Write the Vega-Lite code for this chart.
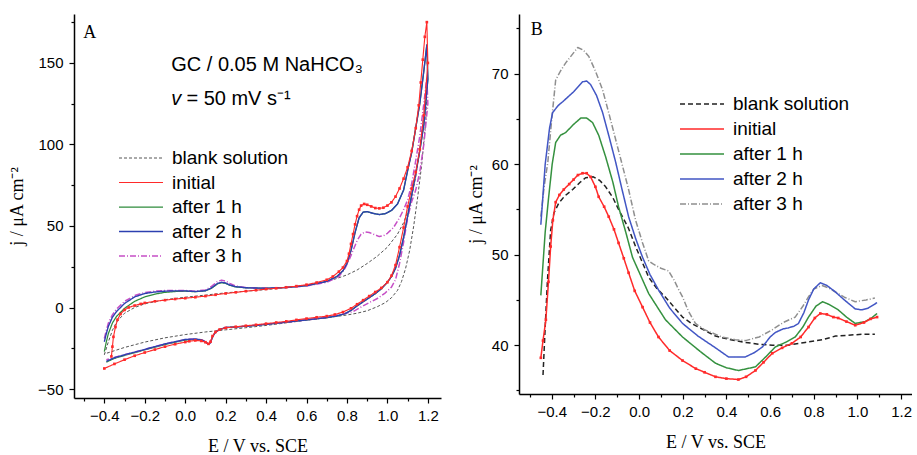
{
  "$schema": "https://vega.github.io/schema/vega-lite/v6.json",
  "background": "white",
  "padding": {"left": 8, "top": 14, "right": 0, "bottom": 0},
  "spacing": 78,
  "bounds": "flush",
  "config": {
    "view": {"stroke": null},
    "axis": {"domainColor": "#000", "domainWidth": 1.5, "tickColor": "#000", "tickWidth": 1.2, "labelFont": "Liberation Sans", "labelFontSize": 15, "labelColor": "#000", "titleFont": "Liberation Serif", "titleFontSize": 18, "titleFontWeight": "normal", "titleColor": "#000", "grid": false, "labelOverlap": false, "labelBound": false, "labelFlush": false},
    "legend": {"labelFont": "Liberation Sans", "labelFontSize": 19, "labelColor": "#000", "labelLimit": 300}
  },
  "datasets": {
    "cvA": [
      {"s":"blank solution","E":-0.40,"j":-29},{"s":"blank solution","E":-0.38,"j":-21},{"s":"blank solution","E":-0.36,"j":-14},{"s":"blank solution","E":-0.34,"j":-9},{"s":"blank solution","E":-0.30,"j":-3.5},{"s":"blank solution","E":-0.25,"j":0},{"s":"blank solution","E":-0.20,"j":2.3},{"s":"blank solution","E":-0.10,"j":4.8},{"s":"blank solution","E":0.00,"j":6.3},{"s":"blank solution","E":0.10,"j":7.6},{"s":"blank solution","E":0.20,"j":9},{"s":"blank solution","E":0.30,"j":10},{"s":"blank solution","E":0.40,"j":11},{"s":"blank solution","E":0.50,"j":12.2},{"s":"blank solution","E":0.60,"j":13.7},{"s":"blank solution","E":0.70,"j":16},{"s":"blank solution","E":0.75,"j":17.8},{"s":"blank solution","E":0.80,"j":20},{"s":"blank solution","E":0.85,"j":23},{"s":"blank solution","E":0.90,"j":27},{"s":"blank solution","E":0.95,"j":31.5},{"s":"blank solution","E":1.00,"j":37},{"s":"blank solution","E":1.05,"j":45},{"s":"blank solution","E":1.08,"j":52},{"s":"blank solution","E":1.11,"j":62},{"s":"blank solution","E":1.14,"j":80},{"s":"blank solution","E":1.16,"j":97},{"s":"blank solution","E":1.18,"j":118},{"s":"blank solution","E":1.195,"j":135},
      {"s":"blank solution","E":1.19,"j":115},{"s":"blank solution","E":1.17,"j":88},{"s":"blank solution","E":1.15,"j":68},{"s":"blank solution","E":1.13,"j":50},{"s":"blank solution","E":1.11,"j":35},{"s":"blank solution","E":1.09,"j":24},{"s":"blank solution","E":1.07,"j":16},{"s":"blank solution","E":1.05,"j":10.5},{"s":"blank solution","E":1.02,"j":6},{"s":"blank solution","E":0.99,"j":3},{"s":"blank solution","E":0.95,"j":0.5},{"s":"blank solution","E":0.90,"j":-2},{"s":"blank solution","E":0.85,"j":-3.5},{"s":"blank solution","E":0.80,"j":-4.6},{"s":"blank solution","E":0.70,"j":-6.3},{"s":"blank solution","E":0.60,"j":-7.8},{"s":"blank solution","E":0.50,"j":-9.4},{"s":"blank solution","E":0.40,"j":-11},{"s":"blank solution","E":0.30,"j":-12.4},{"s":"blank solution","E":0.20,"j":-13.7},{"s":"blank solution","E":0.10,"j":-15},{"s":"blank solution","E":0.00,"j":-16.6},{"s":"blank solution","E":-0.10,"j":-18.6},{"s":"blank solution","E":-0.20,"j":-21.2},{"s":"blank solution","E":-0.30,"j":-24.5},{"s":"blank solution","E":-0.35,"j":-26.5},{"s":"blank solution","E":-0.40,"j":-28.5},

      {"s":"after 1 h","E":-0.40,"j":-27},{"s":"after 1 h","E":-0.39,"j":-21},{"s":"after 1 h","E":-0.38,"j":-16},{"s":"after 1 h","E":-0.36,"j":-9.5},{"s":"after 1 h","E":-0.34,"j":-5.5},{"s":"after 1 h","E":-0.30,"j":-0.5},{"s":"after 1 h","E":-0.25,"j":3.8},{"s":"after 1 h","E":-0.20,"j":6.5},{"s":"after 1 h","E":-0.15,"j":8.2},{"s":"after 1 h","E":-0.10,"j":9.3},{"s":"after 1 h","E":-0.05,"j":9.8},{"s":"after 1 h","E":0.00,"j":10},{"s":"after 1 h","E":0.05,"j":9.7},{"s":"after 1 h","E":0.10,"j":10.2},{"s":"after 1 h","E":0.13,"j":11.8},{"s":"after 1 h","E":0.16,"j":14.5},{"s":"after 1 h","E":0.18,"j":15.2},{"s":"after 1 h","E":0.20,"j":14.8},{"s":"after 1 h","E":0.22,"j":13.6},{"s":"after 1 h","E":0.25,"j":12.6},{"s":"after 1 h","E":0.30,"j":12.1},{"s":"after 1 h","E":0.40,"j":11.8},{"s":"after 1 h","E":0.50,"j":12.3},{"s":"after 1 h","E":0.60,"j":13.4},{"s":"after 1 h","E":0.70,"j":16},{"s":"after 1 h","E":0.75,"j":19},{"s":"after 1 h","E":0.78,"j":22.5},{"s":"after 1 h","E":0.80,"j":27},{"s":"after 1 h","E":0.82,"j":35},{"s":"after 1 h","E":0.84,"j":46},{"s":"after 1 h","E":0.86,"j":55},{"s":"after 1 h","E":0.88,"j":58.5},{"s":"after 1 h","E":0.90,"j":58.8},{"s":"after 1 h","E":0.93,"j":57.7},{"s":"after 1 h","E":0.96,"j":57},{"s":"after 1 h","E":0.99,"j":57.6},{"s":"after 1 h","E":1.02,"j":59.5},{"s":"after 1 h","E":1.05,"j":63.5},{"s":"after 1 h","E":1.08,"j":72},{"s":"after 1 h","E":1.10,"j":84},{"s":"after 1 h","E":1.12,"j":95},{"s":"after 1 h","E":1.14,"j":110},{"s":"after 1 h","E":1.16,"j":125},{"s":"after 1 h","E":1.18,"j":145},{"s":"after 1 h","E":1.195,"j":161},
      {"s":"after 1 h","E":1.20,"j":140},{"s":"after 1 h","E":1.18,"j":112},{"s":"after 1 h","E":1.16,"j":96},{"s":"after 1 h","E":1.14,"j":82},{"s":"after 1 h","E":1.12,"j":69},{"s":"after 1 h","E":1.10,"j":56},{"s":"after 1 h","E":1.08,"j":43},{"s":"after 1 h","E":1.06,"j":32},{"s":"after 1 h","E":1.04,"j":24},{"s":"after 1 h","E":1.02,"j":19},{"s":"after 1 h","E":1.00,"j":15.5},{"s":"after 1 h","E":0.97,"j":11.5},{"s":"after 1 h","E":0.94,"j":8.5},{"s":"after 1 h","E":0.91,"j":6},{"s":"after 1 h","E":0.88,"j":3.5},{"s":"after 1 h","E":0.85,"j":1},{"s":"after 1 h","E":0.82,"j":-1.8},{"s":"after 1 h","E":0.79,"j":-3.8},{"s":"after 1 h","E":0.75,"j":-5.2},{"s":"after 1 h","E":0.70,"j":-6.2},{"s":"after 1 h","E":0.60,"j":-7.6},{"s":"after 1 h","E":0.50,"j":-9},{"s":"after 1 h","E":0.40,"j":-10.3},{"s":"after 1 h","E":0.30,"j":-11.5},{"s":"after 1 h","E":0.20,"j":-12.3},{"s":"after 1 h","E":0.17,"j":-13.5},{"s":"after 1 h","E":0.15,"j":-15},{"s":"after 1 h","E":0.135,"j":-18},{"s":"after 1 h","E":0.125,"j":-21.5},{"s":"after 1 h","E":0.115,"j":-22.6},{"s":"after 1 h","E":0.10,"j":-21.2},{"s":"after 1 h","E":0.08,"j":-20},{"s":"after 1 h","E":0.05,"j":-19.6},{"s":"after 1 h","E":0.00,"j":-20},{"s":"after 1 h","E":-0.05,"j":-21.3},{"s":"after 1 h","E":-0.10,"j":-22.7},{"s":"after 1 h","E":-0.20,"j":-26},{"s":"after 1 h","E":-0.30,"j":-29.4},{"s":"after 1 h","E":-0.35,"j":-31.2},{"s":"after 1 h","E":-0.39,"j":-33.5},

      {"s":"after 3 h","E":-0.40,"j":-19},{"s":"after 3 h","E":-0.39,"j":-14},{"s":"after 3 h","E":-0.38,"j":-9.5},{"s":"after 3 h","E":-0.36,"j":-4.5},{"s":"after 3 h","E":-0.34,"j":-1},{"s":"after 3 h","E":-0.30,"j":3.8},{"s":"after 3 h","E":-0.25,"j":7.3},{"s":"after 3 h","E":-0.20,"j":9.2},{"s":"after 3 h","E":-0.15,"j":10},{"s":"after 3 h","E":-0.10,"j":10.4},{"s":"after 3 h","E":-0.05,"j":10.5},{"s":"after 3 h","E":0.00,"j":10.4},{"s":"after 3 h","E":0.05,"j":10},{"s":"after 3 h","E":0.10,"j":10.8},{"s":"after 3 h","E":0.13,"j":13},{"s":"after 3 h","E":0.16,"j":16},{"s":"after 3 h","E":0.18,"j":16.8},{"s":"after 3 h","E":0.20,"j":16.2},{"s":"after 3 h","E":0.22,"j":14.8},{"s":"after 3 h","E":0.25,"j":13.2},{"s":"after 3 h","E":0.30,"j":12.2},{"s":"after 3 h","E":0.40,"j":11.8},{"s":"after 3 h","E":0.50,"j":12.2},{"s":"after 3 h","E":0.60,"j":13.2},{"s":"after 3 h","E":0.70,"j":15.5},{"s":"after 3 h","E":0.76,"j":19},{"s":"after 3 h","E":0.79,"j":24},{"s":"after 3 h","E":0.81,"j":29},{"s":"after 3 h","E":0.83,"j":35},{"s":"after 3 h","E":0.85,"j":41},{"s":"after 3 h","E":0.87,"j":45},{"s":"after 3 h","E":0.89,"j":46.3},{"s":"after 3 h","E":0.91,"j":46},{"s":"after 3 h","E":0.94,"j":44.5},{"s":"after 3 h","E":0.96,"j":43.5},{"s":"after 3 h","E":0.98,"j":44},{"s":"after 3 h","E":1.00,"j":45.5},{"s":"after 3 h","E":1.03,"j":49},{"s":"after 3 h","E":1.06,"j":55},{"s":"after 3 h","E":1.08,"j":60},{"s":"after 3 h","E":1.10,"j":66},{"s":"after 3 h","E":1.12,"j":76},{"s":"after 3 h","E":1.14,"j":90},{"s":"after 3 h","E":1.16,"j":105},{"s":"after 3 h","E":1.18,"j":125},{"s":"after 3 h","E":1.195,"j":141},
      {"s":"after 3 h","E":1.20,"j":125},{"s":"after 3 h","E":1.18,"j":100},{"s":"after 3 h","E":1.16,"j":83},{"s":"after 3 h","E":1.14,"j":72},{"s":"after 3 h","E":1.12,"j":65},{"s":"after 3 h","E":1.10,"j":55},{"s":"after 3 h","E":1.08,"j":40},{"s":"after 3 h","E":1.06,"j":27},{"s":"after 3 h","E":1.04,"j":17},{"s":"after 3 h","E":1.02,"j":12.5},{"s":"after 3 h","E":0.99,"j":9},{"s":"after 3 h","E":0.95,"j":5.5},{"s":"after 3 h","E":0.91,"j":3},{"s":"after 3 h","E":0.87,"j":0.3},{"s":"after 3 h","E":0.83,"j":-2.5},{"s":"after 3 h","E":0.76,"j":-4.5},{"s":"after 3 h","E":0.70,"j":-6},{"s":"after 3 h","E":0.60,"j":-7.6},{"s":"after 3 h","E":0.50,"j":-9},{"s":"after 3 h","E":0.40,"j":-10.3},{"s":"after 3 h","E":0.30,"j":-11.5},{"s":"after 3 h","E":0.20,"j":-12.3},{"s":"after 3 h","E":0.17,"j":-13.5},{"s":"after 3 h","E":0.15,"j":-15},{"s":"after 3 h","E":0.135,"j":-18},{"s":"after 3 h","E":0.125,"j":-21.5},{"s":"after 3 h","E":0.115,"j":-22.5},{"s":"after 3 h","E":0.10,"j":-21},{"s":"after 3 h","E":0.08,"j":-19.8},{"s":"after 3 h","E":0.05,"j":-19.3},{"s":"after 3 h","E":0.00,"j":-19.6},{"s":"after 3 h","E":-0.05,"j":-21},{"s":"after 3 h","E":-0.10,"j":-22.3},{"s":"after 3 h","E":-0.20,"j":-25.7},{"s":"after 3 h","E":-0.30,"j":-29},{"s":"after 3 h","E":-0.35,"j":-30.6},{"s":"after 3 h","E":-0.39,"j":-32},

      {"s":"after 2 h","E":-0.40,"j":-21},{"s":"after 2 h","E":-0.39,"j":-16},{"s":"after 2 h","E":-0.38,"j":-11.5},{"s":"after 2 h","E":-0.36,"j":-6},{"s":"after 2 h","E":-0.34,"j":-2.5},{"s":"after 2 h","E":-0.30,"j":2.5},{"s":"after 2 h","E":-0.25,"j":6.5},{"s":"after 2 h","E":-0.20,"j":8.6},{"s":"after 2 h","E":-0.15,"j":9.5},{"s":"after 2 h","E":-0.10,"j":10},{"s":"after 2 h","E":-0.05,"j":10.2},{"s":"after 2 h","E":0.00,"j":10.2},{"s":"after 2 h","E":0.05,"j":9.8},{"s":"after 2 h","E":0.10,"j":10.3},{"s":"after 2 h","E":0.13,"j":12},{"s":"after 2 h","E":0.16,"j":14.8},{"s":"after 2 h","E":0.18,"j":15.5},{"s":"after 2 h","E":0.20,"j":15},{"s":"after 2 h","E":0.22,"j":13.8},{"s":"after 2 h","E":0.25,"j":12.8},{"s":"after 2 h","E":0.30,"j":12.1},{"s":"after 2 h","E":0.40,"j":11.8},{"s":"after 2 h","E":0.50,"j":12.3},{"s":"after 2 h","E":0.60,"j":13.4},{"s":"after 2 h","E":0.70,"j":16},{"s":"after 2 h","E":0.75,"j":19},{"s":"after 2 h","E":0.78,"j":22.5},{"s":"after 2 h","E":0.80,"j":27},{"s":"after 2 h","E":0.82,"j":35},{"s":"after 2 h","E":0.84,"j":46},{"s":"after 2 h","E":0.86,"j":55},{"s":"after 2 h","E":0.88,"j":58.5},{"s":"after 2 h","E":0.90,"j":58.8},{"s":"after 2 h","E":0.93,"j":57.7},{"s":"after 2 h","E":0.96,"j":57},{"s":"after 2 h","E":0.99,"j":57.6},{"s":"after 2 h","E":1.02,"j":59.5},{"s":"after 2 h","E":1.05,"j":63.5},{"s":"after 2 h","E":1.08,"j":72},{"s":"after 2 h","E":1.10,"j":84},{"s":"after 2 h","E":1.12,"j":95},{"s":"after 2 h","E":1.14,"j":110},{"s":"after 2 h","E":1.16,"j":125},{"s":"after 2 h","E":1.18,"j":145},{"s":"after 2 h","E":1.195,"j":161},
      {"s":"after 2 h","E":1.20,"j":140},{"s":"after 2 h","E":1.18,"j":112},{"s":"after 2 h","E":1.16,"j":96},{"s":"after 2 h","E":1.14,"j":82},{"s":"after 2 h","E":1.12,"j":69},{"s":"after 2 h","E":1.10,"j":56},{"s":"after 2 h","E":1.08,"j":43},{"s":"after 2 h","E":1.06,"j":32},{"s":"after 2 h","E":1.04,"j":24},{"s":"after 2 h","E":1.02,"j":19},{"s":"after 2 h","E":1.00,"j":15.5},{"s":"after 2 h","E":0.97,"j":11.5},{"s":"after 2 h","E":0.94,"j":8.5},{"s":"after 2 h","E":0.91,"j":6},{"s":"after 2 h","E":0.88,"j":3.5},{"s":"after 2 h","E":0.85,"j":1},{"s":"after 2 h","E":0.82,"j":-1.8},{"s":"after 2 h","E":0.79,"j":-3.8},{"s":"after 2 h","E":0.75,"j":-5.2},{"s":"after 2 h","E":0.70,"j":-6.2},{"s":"after 2 h","E":0.60,"j":-7.6},{"s":"after 2 h","E":0.50,"j":-9},{"s":"after 2 h","E":0.40,"j":-10.3},{"s":"after 2 h","E":0.30,"j":-11.5},{"s":"after 2 h","E":0.20,"j":-12.3},{"s":"after 2 h","E":0.17,"j":-13.5},{"s":"after 2 h","E":0.15,"j":-15},{"s":"after 2 h","E":0.135,"j":-18},{"s":"after 2 h","E":0.125,"j":-21.5},{"s":"after 2 h","E":0.115,"j":-22.5},{"s":"after 2 h","E":0.10,"j":-21},{"s":"after 2 h","E":0.08,"j":-19.8},{"s":"after 2 h","E":0.05,"j":-19.3},{"s":"after 2 h","E":0.00,"j":-19.6},{"s":"after 2 h","E":-0.05,"j":-21},{"s":"after 2 h","E":-0.10,"j":-22.3},{"s":"after 2 h","E":-0.20,"j":-25.7},{"s":"after 2 h","E":-0.30,"j":-29},{"s":"after 2 h","E":-0.35,"j":-30.8},{"s":"after 2 h","E":-0.39,"j":-33},

      {"s":"initial","E":-0.365,"j":-30},{"s":"initial","E":-0.36,"j":-24},{"s":"initial","E":-0.355,"j":-18},{"s":"initial","E":-0.345,"j":-12},{"s":"initial","E":-0.335,"j":-7.5},{"s":"initial","E":-0.32,"j":-4},{"s":"initial","E":-0.30,"j":-1.5},{"s":"initial","E":-0.28,"j":0},{"s":"initial","E":-0.25,"j":1.2},{"s":"initial","E":-0.22,"j":2.2},{"s":"initial","E":-0.20,"j":2.8},{"s":"initial","E":-0.15,"j":3.8},{"s":"initial","E":-0.10,"j":4.5},{"s":"initial","E":-0.05,"j":5.2},{"s":"initial","E":0.00,"j":5.7},{"s":"initial","E":0.05,"j":6.3},{"s":"initial","E":0.10,"j":7},{"s":"initial","E":0.15,"j":7.8},{"s":"initial","E":0.20,"j":8.6},{"s":"initial","E":0.25,"j":9.3},{"s":"initial","E":0.30,"j":10},{"s":"initial","E":0.35,"j":10.6},{"s":"initial","E":0.40,"j":11.3},{"s":"initial","E":0.45,"j":11.8},{"s":"initial","E":0.50,"j":12.4},{"s":"initial","E":0.55,"j":13.1},{"s":"initial","E":0.60,"j":14},{"s":"initial","E":0.65,"j":15.3},{"s":"initial","E":0.70,"j":17},{"s":"initial","E":0.73,"j":19},{"s":"initial","E":0.76,"j":22},{"s":"initial","E":0.78,"j":24.5},{"s":"initial","E":0.80,"j":28.5},{"s":"initial","E":0.81,"j":33},{"s":"initial","E":0.82,"j":39},{"s":"initial","E":0.83,"j":45},{"s":"initial","E":0.84,"j":51},{"s":"initial","E":0.85,"j":56},{"s":"initial","E":0.86,"j":60},{"s":"initial","E":0.87,"j":62.5},{"s":"initial","E":0.885,"j":63.5},{"s":"initial","E":0.90,"j":63},{"s":"initial","E":0.92,"j":62},{"s":"initial","E":0.94,"j":61},{"s":"initial","E":0.96,"j":60.8},{"s":"initial","E":0.98,"j":61.2},{"s":"initial","E":1.00,"j":62.5},{"s":"initial","E":1.02,"j":64.5},{"s":"initial","E":1.04,"j":68},{"s":"initial","E":1.06,"j":73},{"s":"initial","E":1.08,"j":79},{"s":"initial","E":1.10,"j":86},{"s":"initial","E":1.12,"j":96},{"s":"initial","E":1.14,"j":110},{"s":"initial","E":1.155,"j":124},{"s":"initial","E":1.165,"j":138},{"s":"initial","E":1.175,"j":152},{"s":"initial","E":1.185,"j":166},{"s":"initial","E":1.195,"j":175},
      {"s":"initial","E":1.20,"j":150},{"s":"initial","E":1.18,"j":118},{"s":"initial","E":1.16,"j":97},{"s":"initial","E":1.14,"j":83},{"s":"initial","E":1.12,"j":73},{"s":"initial","E":1.10,"j":62},{"s":"initial","E":1.08,"j":49},{"s":"initial","E":1.06,"j":37},{"s":"initial","E":1.04,"j":26},{"s":"initial","E":1.02,"j":19.5},{"s":"initial","E":1.00,"j":15.5},{"s":"initial","E":0.97,"j":12},{"s":"initial","E":0.94,"j":9.5},{"s":"initial","E":0.91,"j":7},{"s":"initial","E":0.88,"j":4.5},{"s":"initial","E":0.85,"j":2},{"s":"initial","E":0.82,"j":-0.5},{"s":"initial","E":0.78,"j":-2.8},{"s":"initial","E":0.74,"j":-4.3},{"s":"initial","E":0.70,"j":-5.3},{"s":"initial","E":0.65,"j":-6},{"s":"initial","E":0.60,"j":-6.8},{"s":"initial","E":0.55,"j":-7.6},{"s":"initial","E":0.50,"j":-8.5},{"s":"initial","E":0.45,"j":-9.2},{"s":"initial","E":0.40,"j":-9.9},{"s":"initial","E":0.35,"j":-10.6},{"s":"initial","E":0.30,"j":-11.2},{"s":"initial","E":0.25,"j":-11.8},{"s":"initial","E":0.20,"j":-12.5},{"s":"initial","E":0.17,"j":-13.5},{"s":"initial","E":0.15,"j":-15},{"s":"initial","E":0.135,"j":-17.5},{"s":"initial","E":0.125,"j":-21},{"s":"initial","E":0.115,"j":-22.3},{"s":"initial","E":0.10,"j":-21.3},{"s":"initial","E":0.08,"j":-20.5},{"s":"initial","E":0.05,"j":-20.2},{"s":"initial","E":0.02,"j":-20.7},{"s":"initial","E":0.00,"j":-21.2},{"s":"initial","E":-0.05,"j":-22.5},{"s":"initial","E":-0.10,"j":-24},{"s":"initial","E":-0.15,"j":-25.8},{"s":"initial","E":-0.20,"j":-27.6},{"s":"initial","E":-0.25,"j":-29.6},{"s":"initial","E":-0.30,"j":-32},{"s":"initial","E":-0.35,"j":-34.6},{"s":"initial","E":-0.40,"j":-37.4}
    ],
    "cvB": [
      {"s":"blank solution","E":-0.44,"j":36.7},{"s":"blank solution","E":-0.43,"j":42},{"s":"blank solution","E":-0.42,"j":47},{"s":"blank solution","E":-0.405,"j":52.7},{"s":"blank solution","E":-0.39,"j":54.6},{"s":"blank solution","E":-0.368,"j":55.7},{"s":"blank solution","E":-0.34,"j":56.5},{"s":"blank solution","E":-0.304,"j":57.2},{"s":"blank solution","E":-0.27,"j":58},{"s":"blank solution","E":-0.245,"j":58.5},{"s":"blank solution","E":-0.21,"j":58.6},{"s":"blank solution","E":-0.18,"j":58.2},{"s":"blank solution","E":-0.153,"j":57.5},{"s":"blank solution","E":-0.12,"j":56.3},{"s":"blank solution","E":-0.094,"j":55},{"s":"blank solution","E":-0.05,"j":53},{"s":"blank solution","E":-0.016,"j":50.9},{"s":"blank solution","E":0.044,"j":47.5},{"s":"blank solution","E":0.08,"j":46.3},{"s":"blank solution","E":0.121,"j":45.3},{"s":"blank solution","E":0.16,"j":44.2},{"s":"blank solution","E":0.199,"j":43.1},{"s":"blank solution","E":0.24,"j":42.4},{"s":"blank solution","E":0.272,"j":42},{"s":"blank solution","E":0.35,"j":41},{"s":"blank solution","E":0.42,"j":40.6},{"s":"blank solution","E":0.487,"j":40.3},{"s":"blank solution","E":0.55,"j":40.1},{"s":"blank solution","E":0.61,"j":40},{"s":"blank solution","E":0.683,"j":40},{"s":"blank solution","E":0.76,"j":40.3},{"s":"blank solution","E":0.838,"j":40.6},{"s":"blank solution","E":0.9,"j":41},{"s":"blank solution","E":0.958,"j":41.1},{"s":"blank solution","E":1.02,"j":41.2},{"s":"blank solution","E":1.08,"j":41.2},

      {"s":"after 3 h","E":-0.45,"j":54.2},{"s":"after 3 h","E":-0.435,"j":57.5},{"s":"after 3 h","E":-0.418,"j":60.2},{"s":"after 3 h","E":-0.40,"j":65},{"s":"after 3 h","E":-0.382,"j":69.3},{"s":"after 3 h","E":-0.36,"j":70.3},{"s":"after 3 h","E":-0.336,"j":71.2},{"s":"after 3 h","E":-0.31,"j":72},{"s":"after 3 h","E":-0.281,"j":72.9},{"s":"after 3 h","E":-0.255,"j":72.6},{"s":"after 3 h","E":-0.23,"j":71.9},{"s":"after 3 h","E":-0.2,"j":70.3},{"s":"after 3 h","E":-0.167,"j":68.2},{"s":"after 3 h","E":-0.137,"j":65.5},{"s":"after 3 h","E":-0.107,"j":62.7},{"s":"after 3 h","E":-0.078,"j":60},{"s":"after 3 h","E":-0.048,"j":57.2},{"s":"after 3 h","E":-0.016,"j":53.8},{"s":"after 3 h","E":0.016,"j":51.3},{"s":"after 3 h","E":0.044,"j":49.3},{"s":"after 3 h","E":0.062,"j":49},{"s":"after 3 h","E":0.1,"j":48.5},{"s":"after 3 h","E":0.135,"j":48.2},{"s":"after 3 h","E":0.16,"j":47.2},{"s":"after 3 h","E":0.18,"j":46.2},{"s":"after 3 h","E":0.2,"j":45.3},{"s":"after 3 h","E":0.225,"j":43.8},{"s":"after 3 h","E":0.258,"j":42.4},{"s":"after 3 h","E":0.3,"j":41.7},{"s":"after 3 h","E":0.38,"j":40.9},{"s":"after 3 h","E":0.44,"j":40.6},{"s":"after 3 h","E":0.487,"j":40.5},{"s":"after 3 h","E":0.55,"j":40.9},{"s":"after 3 h","E":0.61,"j":41.7},{"s":"after 3 h","E":0.66,"j":42.5},{"s":"after 3 h","E":0.715,"j":43.1},{"s":"after 3 h","E":0.75,"j":44.3},{"s":"after 3 h","E":0.775,"j":45.3},{"s":"after 3 h","E":0.8,"j":46.2},{"s":"after 3 h","E":0.838,"j":46.6},{"s":"after 3 h","E":0.87,"j":46.3},{"s":"after 3 h","E":0.898,"j":45.9},{"s":"after 3 h","E":0.94,"j":45.3},{"s":"after 3 h","E":0.99,"j":44.8},{"s":"after 3 h","E":1.04,"j":45},{"s":"after 3 h","E":1.08,"j":45.2},

      {"s":"after 2 h","E":-0.45,"j":53.3},{"s":"after 2 h","E":-0.43,"j":60},{"s":"after 2 h","E":-0.41,"j":64},{"s":"after 2 h","E":-0.396,"j":65.7},{"s":"after 2 h","E":-0.37,"j":66.5},{"s":"after 2 h","E":-0.35,"j":66.9},{"s":"after 2 h","E":-0.3,"j":68},{"s":"after 2 h","E":-0.259,"j":69.1},{"s":"after 2 h","E":-0.24,"j":69.2},{"s":"after 2 h","E":-0.222,"j":68.8},{"s":"after 2 h","E":-0.195,"j":67.6},{"s":"after 2 h","E":-0.167,"j":65.7},{"s":"after 2 h","E":-0.137,"j":63},{"s":"after 2 h","E":-0.107,"j":60.2},{"s":"after 2 h","E":-0.078,"j":57.2},{"s":"after 2 h","E":-0.048,"j":54.2},{"s":"after 2 h","E":-0.016,"j":51.8},{"s":"after 2 h","E":0.016,"j":49.7},{"s":"after 2 h","E":0.05,"j":47.8},{"s":"after 2 h","E":0.089,"j":46.1},{"s":"after 2 h","E":0.14,"j":44.1},{"s":"after 2 h","E":0.199,"j":42.4},{"s":"after 2 h","E":0.27,"j":41},{"s":"after 2 h","E":0.35,"j":39.7},{"s":"after 2 h","E":0.409,"j":38.7},{"s":"after 2 h","E":0.487,"j":38.7},{"s":"after 2 h","E":0.53,"j":39.2},{"s":"after 2 h","E":0.565,"j":39.8},{"s":"after 2 h","E":0.6,"j":40.9},{"s":"after 2 h","E":0.624,"j":41.4},{"s":"after 2 h","E":0.66,"j":41.8},{"s":"after 2 h","E":0.683,"j":41.9},{"s":"after 2 h","E":0.71,"j":42.1},{"s":"after 2 h","E":0.73,"j":42.4},{"s":"after 2 h","E":0.755,"j":43.6},{"s":"after 2 h","E":0.776,"j":45},{"s":"after 2 h","E":0.8,"j":46.2},{"s":"after 2 h","E":0.83,"j":46.9},{"s":"after 2 h","E":0.86,"j":46.6},{"s":"after 2 h","E":0.898,"j":45.9},{"s":"after 2 h","E":0.94,"j":45},{"s":"after 2 h","E":0.99,"j":44},{"s":"after 2 h","E":1.02,"j":43.9},{"s":"after 2 h","E":1.05,"j":44.1},{"s":"after 2 h","E":1.09,"j":44.7},

      {"s":"after 1 h","E":-0.45,"j":45.5},{"s":"after 1 h","E":-0.43,"j":52.5},{"s":"after 1 h","E":-0.414,"j":56.4},{"s":"after 1 h","E":-0.398,"j":60},{"s":"after 1 h","E":-0.382,"j":62.4},{"s":"after 1 h","E":-0.36,"j":63.2},{"s":"after 1 h","E":-0.336,"j":63.5},{"s":"after 1 h","E":-0.3,"j":64.4},{"s":"after 1 h","E":-0.267,"j":65.1},{"s":"after 1 h","E":-0.24,"j":65.1},{"s":"after 1 h","E":-0.213,"j":64.6},{"s":"after 1 h","E":-0.185,"j":63.2},{"s":"after 1 h","E":-0.153,"j":60.8},{"s":"after 1 h","E":-0.12,"j":58},{"s":"after 1 h","E":-0.094,"j":55.3},{"s":"after 1 h","E":-0.06,"j":52.4},{"s":"after 1 h","E":-0.03,"j":49.7},{"s":"after 1 h","E":0.044,"j":45.7},{"s":"after 1 h","E":0.121,"j":42.8},{"s":"after 1 h","E":0.199,"j":40.9},{"s":"after 1 h","E":0.28,"j":39.3},{"s":"after 1 h","E":0.35,"j":38},{"s":"after 1 h","E":0.40,"j":37.5},{"s":"after 1 h","E":0.455,"j":37.2},{"s":"after 1 h","E":0.533,"j":37.6},{"s":"after 1 h","E":0.58,"j":38.7},{"s":"after 1 h","E":0.624,"j":39.8},{"s":"after 1 h","E":0.67,"j":40.3},{"s":"after 1 h","E":0.715,"j":40.9},{"s":"after 1 h","E":0.75,"j":42},{"s":"after 1 h","E":0.776,"j":43.1},{"s":"after 1 h","E":0.81,"j":44.3},{"s":"after 1 h","E":0.84,"j":44.8},{"s":"after 1 h","E":0.87,"j":44.5},{"s":"after 1 h","E":0.912,"j":43.9},{"s":"after 1 h","E":0.95,"j":43.1},{"s":"after 1 h","E":0.99,"j":42.4},{"s":"after 1 h","E":1.035,"j":42.6},{"s":"after 1 h","E":1.065,"j":43},{"s":"after 1 h","E":1.09,"j":43.5},

      {"s":"initial","E":-0.45,"j":38.6},{"s":"initial","E":-0.44,"j":40.5},{"s":"initial","E":-0.427,"j":42.8},{"s":"initial","E":-0.415,"j":47},{"s":"initial","E":-0.405,"j":50.9},{"s":"initial","E":-0.395,"j":53.8},{"s":"initial","E":-0.382,"j":55.8},{"s":"initial","E":-0.365,"j":56.6},{"s":"initial","E":-0.345,"j":57.2},{"s":"initial","E":-0.32,"j":57.8},{"s":"initial","E":-0.3,"j":58.3},{"s":"initial","E":-0.28,"j":58.8},{"s":"initial","E":-0.259,"j":59},{"s":"initial","E":-0.24,"j":59},{"s":"initial","E":-0.222,"j":58.6},{"s":"initial","E":-0.2,"j":57.5},{"s":"initial","E":-0.185,"j":56.4},{"s":"initial","E":-0.16,"j":55.3},{"s":"initial","E":-0.139,"j":54.2},{"s":"initial","E":-0.115,"j":52.8},{"s":"initial","E":-0.094,"j":51.3},{"s":"initial","E":-0.07,"j":49.6},{"s":"initial","E":-0.048,"j":48},{"s":"initial","E":-0.02,"j":46},{"s":"initial","E":0.016,"j":44.2},{"s":"initial","E":0.05,"j":42.5},{"s":"initial","E":0.089,"j":40.9},{"s":"initial","E":0.14,"j":39.4},{"s":"initial","E":0.199,"j":38.3},{"s":"initial","E":0.26,"j":37.4},{"s":"initial","E":0.3,"j":37},{"s":"initial","E":0.35,"j":36.5},{"s":"initial","E":0.4,"j":36.3},{"s":"initial","E":0.455,"j":36.2},{"s":"initial","E":0.49,"j":36.5},{"s":"initial","E":0.533,"j":37.2},{"s":"initial","E":0.57,"j":38.1},{"s":"initial","E":0.61,"j":39.1},{"s":"initial","E":0.655,"j":39.7},{"s":"initial","E":0.7,"j":40.2},{"s":"initial","E":0.74,"j":40.9},{"s":"initial","E":0.776,"j":42},{"s":"initial","E":0.805,"j":43},{"s":"initial","E":0.83,"j":43.5},{"s":"initial","E":0.86,"j":43.4},{"s":"initial","E":0.89,"j":43.1},{"s":"initial","E":0.912,"j":43},{"s":"initial","E":0.95,"j":42.6},{"s":"initial","E":0.99,"j":42.2},{"s":"initial","E":1.03,"j":42.5},{"s":"initial","E":1.06,"j":42.9},{"s":"initial","E":1.09,"j":43.1}
    ],
    "labelsA": [
      {"E": -0.504, "j": 168.2, "t": "A"}
    ],
    "notesA": [
      {"E": -0.069, "j": 149, "t": "GC / 0.05 M NaHCO₃"},
      {"E": 0.006, "j": 128, "t": "= 50 mV s⁻¹"}
    ],
    "italA": [
      {"E": -0.069, "j": 128, "t": "v"}
    ],
    "labelsB": [
      {"E": -0.496, "j": 74.8, "t": "B"}
    ]
  },
  "resolve": {
    "scale": {"color": "independent", "strokeDash": "independent", "strokeWidth": "independent"},
    "legend": {"color": "independent", "strokeDash": "independent", "strokeWidth": "independent"}
  },
  "hconcat": [
    {
      "width": 367,
      "height": 384,
      "resolve": {"axis": {"x": "independent", "y": "independent"}},
      "layer": [
        {
          "data": {"name": "cvA"},
          "mark": {"type": "line", "strokeJoin": "round", "clip": false},
          "encoding": {
            "x": {"field": "E", "type": "quantitative", "scale": {"domain": [-0.55, 1.265], "nice": false, "zero": false},
              "axis": {"title": "E / V vs. SCE", "values": [-0.4,-0.2,0,0.2,0.4,0.6,0.8,1,1.2], "format": ".1f", "tickSize": 5,
                "labelFont": "Liberation Sans", "labelFontSize": 15, "labelColor": "#000", "titleFont": "Liberation Serif", "titleFontSize": 18, "titleFontWeight": "normal", "titleColor": "#000",
                "domainColor": "#000", "domainWidth": 1.5, "tickColor": "#000", "tickWidth": 1.2, "grid": false, "labelOverlap": false, "labelFlush": false,
                "labelPadding": 5, "titlePadding": 14}},
            "y": {"field": "j", "type": "quantitative", "scale": {"domain": [-55.5, 180], "nice": false, "zero": false},
              "axis": {"title": "j / μA cm⁻²", "values": [-50,0,50,100,150], "tickSize": 5,
                "labelFont": "Liberation Sans", "labelFontSize": 15, "labelColor": "#000", "titleFont": "Liberation Serif", "titleFontSize": 18, "titleFontWeight": "normal", "titleColor": "#000",
                "domainColor": "#000", "domainWidth": 1.5, "tickColor": "#000", "tickWidth": 1.2, "grid": false, "labelOverlap": false, "labelFlush": false,
                "labelPadding": 6, "titlePadding": 11}},
            "color": {"field": "s", "type": "nominal",
              "scale": {"domain": ["blank solution", "initial", "after 1 h", "after 2 h", "after 3 h"], "range": ["#555555", "#ff2a2a", "#2f8c3c", "#2c40b0", "#c64fc6"]},
              "legend": {"title": null, "orient": "none", "legendX": 44, "legendY": 134, "direction": "vertical", "symbolType": "stroke", "symbolSize": 1936, "clipHeight": 20, "rowPadding": 4.5, "labelOffset": 8}},
            "strokeDash": {"field": "s", "type": "nominal",
              "scale": {"domain": ["blank solution", "initial", "after 1 h", "after 2 h", "after 3 h"], "range": [[3, 2], [1, 0], [1, 0], [1, 0], [6, 2, 1, 2]]},
              "legend": {"title": null, "orient": "none", "legendX": 44, "legendY": 134, "direction": "vertical", "symbolType": "stroke", "symbolSize": 1936, "clipHeight": 20, "rowPadding": 4.5, "labelOffset": 8}},
            "strokeWidth": {"field": "s", "type": "nominal",
              "scale": {"domain": ["blank solution", "initial", "after 1 h", "after 2 h", "after 3 h"], "range": [1, 1.5, 1.2, 2, 1]},
              "legend": {"title": null, "orient": "none", "legendX": 44, "legendY": 134, "direction": "vertical", "symbolType": "stroke", "symbolSize": 1936, "clipHeight": 20, "rowPadding": 4.5, "labelOffset": 8}},
            "order": {"value": null}
          }
        },
        {
          "data": {"name": "cvA"},
          "transform": [{"filter": "datum.s === 'initial'"}],
          "mark": {"type": "point", "shape": "square", "filled": true, "size": 7, "color": "#ff2a2a", "opacity": 1},
          "encoding": {
            "x": {"field": "E", "type": "quantitative", "axis": {"orient": "bottom", "values": [-0.5,-0.3,-0.1,0.1,0.3,0.5,0.7,0.9,1.1], "labels": false, "domain": false, "tickSize": 3, "tickColor": "#000", "tickWidth": 1.2, "grid": false, "title": null}},
            "y": {"field": "j", "type": "quantitative", "axis": {"orient": "left", "values": [-25,25,75,125,175], "labels": false, "domain": false, "tickSize": 3, "tickColor": "#000", "tickWidth": 1.2, "grid": false, "title": null}}
          }
        },
        {
          "data": {"name": "labelsA"},
          "mark": {"type": "text", "font": "Liberation Serif", "fontSize": 18, "align": "left", "baseline": "middle", "color": "#000"},
          "encoding": {"x": {"field": "E", "type": "quantitative", "axis": null}, "y": {"field": "j", "type": "quantitative", "axis": null}, "text": {"field": "t"}}
        },
        {
          "data": {"name": "notesA"},
          "mark": {"type": "text", "font": "Liberation Sans", "fontSize": 20, "align": "left", "baseline": "middle", "color": "#000"},
          "encoding": {"x": {"field": "E", "type": "quantitative", "axis": null}, "y": {"field": "j", "type": "quantitative", "axis": null}, "text": {"field": "t"}}
        },
        {
          "data": {"name": "italA"},
          "mark": {"type": "text", "font": "Liberation Sans", "fontSize": 20, "fontStyle": "italic", "align": "left", "baseline": "middle", "color": "#000"},
          "encoding": {"x": {"field": "E", "type": "quantitative", "axis": null}, "y": {"field": "j", "type": "quantitative", "axis": null}, "text": {"field": "t"}}
        }
      ]
    },
    {
      "width": 393,
      "height": 380,
      "resolve": {"axis": {"x": "independent", "y": "independent"}},
      "layer": [
        {
          "data": {"name": "cvB"},
          "mark": {"type": "line", "strokeJoin": "round"},
          "encoding": {
            "x": {"field": "E", "type": "quantitative", "scale": {"domain": [-0.55, 1.25], "nice": false, "zero": false},
              "axis": {"title": "E / V vs. SCE", "values": [-0.4,-0.2,0,0.2,0.4,0.6,0.8,1,1.2], "format": ".1f", "tickSize": 5,
                "labelFont": "Liberation Sans", "labelFontSize": 15, "labelColor": "#000", "titleFont": "Liberation Serif", "titleFontSize": 18, "titleFontWeight": "normal", "titleColor": "#000",
                "domainColor": "#000", "domainWidth": 1.5, "tickColor": "#000", "tickWidth": 1.2, "grid": false, "labelOverlap": false, "labelFlush": false,
                "labelPadding": 5, "titlePadding": 14}},
            "y": {"field": "j", "type": "quantitative", "scale": {"domain": [34.6, 76.6], "nice": false, "zero": false},
              "axis": {"title": "j / μA cm⁻²", "values": [40,50,60,70], "tickSize": 5,
                "labelFont": "Liberation Sans", "labelFontSize": 15, "labelColor": "#000", "titleFont": "Liberation Serif", "titleFontSize": 18, "titleFontWeight": "normal", "titleColor": "#000",
                "domainColor": "#000", "domainWidth": 1.5, "tickColor": "#000", "tickWidth": 1.2, "grid": false, "labelOverlap": false, "labelFlush": false,
                "labelPadding": 6, "titlePadding": 6}},
            "color": {"field": "s", "type": "nominal",
              "scale": {"domain": ["blank solution", "initial", "after 1 h", "after 2 h", "after 3 h"], "range": ["#222222", "#ff2a2a", "#35913f", "#4256c4", "#8f8f8f"]},
              "legend": {"title": null, "orient": "none", "legendX": 160, "legendY": 80, "direction": "vertical", "symbolType": "stroke", "symbolSize": 1936, "clipHeight": 20, "rowPadding": 5, "labelOffset": 8}},
            "strokeDash": {"field": "s", "type": "nominal",
              "scale": {"domain": ["blank solution", "initial", "after 1 h", "after 2 h", "after 3 h"], "range": [[5, 3], [1, 0], [1, 0], [1, 0], [6, 2, 1, 2]]},
              "legend": {"title": null, "orient": "none", "legendX": 160, "legendY": 80, "direction": "vertical", "symbolType": "stroke", "symbolSize": 1936, "clipHeight": 20, "rowPadding": 5, "labelOffset": 8}},
            "strokeWidth": {"field": "s", "type": "nominal",
              "scale": {"domain": ["blank solution", "initial", "after 1 h", "after 2 h", "after 3 h"], "range": [1.5, 1.5, 1.1, 1.2, 1]},
              "legend": {"title": null, "orient": "none", "legendX": 160, "legendY": 80, "direction": "vertical", "symbolType": "stroke", "symbolSize": 1936, "clipHeight": 20, "rowPadding": 5, "labelOffset": 8}}
          }
        },
        {
          "data": {"name": "cvB"},
          "transform": [{"filter": "datum.s === 'initial'"}],
          "mark": {"type": "point", "shape": "square", "filled": true, "size": 7, "color": "#ff2a2a", "opacity": 1},
          "encoding": {
            "x": {"field": "E", "type": "quantitative", "axis": {"orient": "bottom", "values": [-0.5,-0.3,-0.1,0.1,0.3,0.5,0.7,0.9,1.1], "labels": false, "domain": false, "tickSize": 3, "tickColor": "#000", "tickWidth": 1.2, "grid": false, "title": null}},
            "y": {"field": "j", "type": "quantitative", "axis": {"orient": "left", "values": [35,45,55,65,75], "labels": false, "domain": false, "tickSize": 3, "tickColor": "#000", "tickWidth": 1.2, "grid": false, "title": null}}
          }
        },
        {
          "data": {"name": "labelsB"},
          "mark": {"type": "text", "font": "Liberation Serif", "fontSize": 18, "align": "left", "baseline": "middle", "color": "#000"},
          "encoding": {"x": {"field": "E", "type": "quantitative", "axis": null}, "y": {"field": "j", "type": "quantitative", "axis": null}, "text": {"field": "t"}}
        }
      ]
    }
  ]
}
